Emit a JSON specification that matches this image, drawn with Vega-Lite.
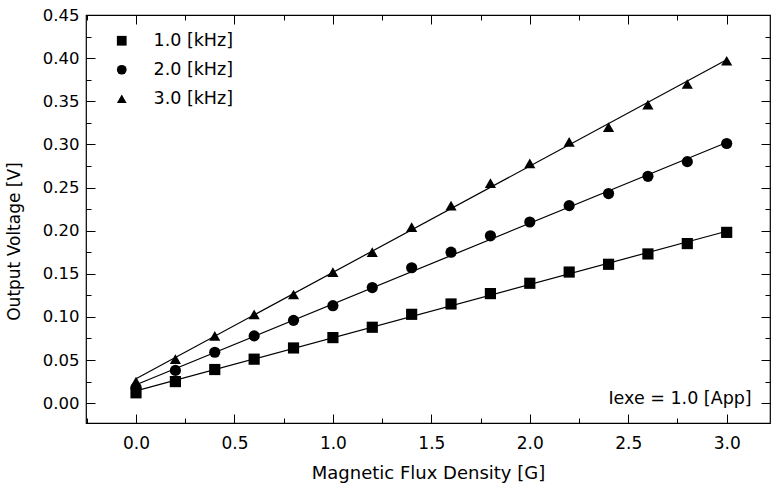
{
  "$schema": "https://vega.github.io/schema/vega-lite/v6.json",
  "autosize": "none",
  "width": 684,
  "height": 408,
  "padding": {"left": 86, "top": 15, "right": 1, "bottom": 69},
  "background": "white",
  "config": {
    "font": "DejaVu Sans",
    "view": {"stroke": "black", "strokeWidth": 1.2},
    "axis": {"domain": false, "grid": false, "tickColor": "black", "labelColor": "black", "titleColor": "black", "titleFontWeight": "normal", "labelFont": "DejaVu Sans", "titleFont": "DejaVu Sans"},
    "legend": {"labelFont": "DejaVu Sans"}
  },
  "data": {
    "values": [
      {"B": 0.0, "V": 0.012, "f": "1.0 [kHz]"},
      {"B": 0.2, "V": 0.025, "f": "1.0 [kHz]"},
      {"B": 0.4, "V": 0.039, "f": "1.0 [kHz]"},
      {"B": 0.6, "V": 0.051, "f": "1.0 [kHz]"},
      {"B": 0.8, "V": 0.064, "f": "1.0 [kHz]"},
      {"B": 1.0, "V": 0.076, "f": "1.0 [kHz]"},
      {"B": 1.2, "V": 0.088, "f": "1.0 [kHz]"},
      {"B": 1.4, "V": 0.103, "f": "1.0 [kHz]"},
      {"B": 1.6, "V": 0.115, "f": "1.0 [kHz]"},
      {"B": 1.8, "V": 0.127, "f": "1.0 [kHz]"},
      {"B": 2.0, "V": 0.139, "f": "1.0 [kHz]"},
      {"B": 2.2, "V": 0.152, "f": "1.0 [kHz]"},
      {"B": 2.4, "V": 0.161, "f": "1.0 [kHz]"},
      {"B": 2.6, "V": 0.173, "f": "1.0 [kHz]"},
      {"B": 2.8, "V": 0.185, "f": "1.0 [kHz]"},
      {"B": 3.0, "V": 0.198, "f": "1.0 [kHz]"},
      {"B": 0.0, "V": 0.018, "f": "2.0 [kHz]"},
      {"B": 0.2, "V": 0.038, "f": "2.0 [kHz]"},
      {"B": 0.4, "V": 0.059, "f": "2.0 [kHz]"},
      {"B": 0.6, "V": 0.078, "f": "2.0 [kHz]"},
      {"B": 0.8, "V": 0.096, "f": "2.0 [kHz]"},
      {"B": 1.0, "V": 0.113, "f": "2.0 [kHz]"},
      {"B": 1.2, "V": 0.134, "f": "2.0 [kHz]"},
      {"B": 1.4, "V": 0.157, "f": "2.0 [kHz]"},
      {"B": 1.6, "V": 0.175, "f": "2.0 [kHz]"},
      {"B": 1.8, "V": 0.194, "f": "2.0 [kHz]"},
      {"B": 2.0, "V": 0.210, "f": "2.0 [kHz]"},
      {"B": 2.2, "V": 0.229, "f": "2.0 [kHz]"},
      {"B": 2.4, "V": 0.243, "f": "2.0 [kHz]"},
      {"B": 2.6, "V": 0.263, "f": "2.0 [kHz]"},
      {"B": 2.8, "V": 0.280, "f": "2.0 [kHz]"},
      {"B": 3.0, "V": 0.301, "f": "2.0 [kHz]"},
      {"B": 0.0, "V": 0.025, "f": "3.0 [kHz]"},
      {"B": 0.2, "V": 0.051, "f": "3.0 [kHz]"},
      {"B": 0.4, "V": 0.078, "f": "3.0 [kHz]"},
      {"B": 0.6, "V": 0.103, "f": "3.0 [kHz]"},
      {"B": 0.8, "V": 0.126, "f": "3.0 [kHz]"},
      {"B": 1.0, "V": 0.152, "f": "3.0 [kHz]"},
      {"B": 1.2, "V": 0.175, "f": "3.0 [kHz]"},
      {"B": 1.4, "V": 0.204, "f": "3.0 [kHz]"},
      {"B": 1.6, "V": 0.229, "f": "3.0 [kHz]"},
      {"B": 1.8, "V": 0.255, "f": "3.0 [kHz]"},
      {"B": 2.0, "V": 0.278, "f": "3.0 [kHz]"},
      {"B": 2.2, "V": 0.303, "f": "3.0 [kHz]"},
      {"B": 2.4, "V": 0.320, "f": "3.0 [kHz]"},
      {"B": 2.6, "V": 0.346, "f": "3.0 [kHz]"},
      {"B": 2.8, "V": 0.370, "f": "3.0 [kHz]"},
      {"B": 3.0, "V": 0.397, "f": "3.0 [kHz]"}
    ]
  },
  "resolve": {"axis": {"x": "independent", "y": "independent"}},
  "layer": [
    {
      "transform": [{"regression": "V", "on": "B", "groupby": ["f"], "extent": [0, 3]}],
      "mark": {"type": "line", "color": "black", "strokeWidth": 1.2},
      "encoding": {
        "x": {"field": "B", "type": "quantitative", "scale": {"domain": [-0.254, 3.22], "nice": false, "zero": false}, "axis": null},
        "y": {"field": "V", "type": "quantitative", "scale": {"domain": [-0.023, 0.45], "nice": false, "zero": false}, "axis": null},
        "detail": {"field": "f"}
      }
    },
    {
      "mark": {"type": "point", "filled": true, "opacity": 1, "color": "black", "size": 125},
      "encoding": {
        "x": {"field": "B", "type": "quantitative", "scale": {"domain": [-0.254, 3.22], "nice": false, "zero": false},
          "axis": {"orient": "bottom", "values": [0, 0.5, 1, 1.5, 2, 2.5, 3], "format": ".1f", "ticks": false, "labelPadding": 12, "labelFontSize": 17, "title": "Magnetic Flux Density [G]", "titleFontSize": 18, "titlePadding": 13}},
        "y": {"field": "V", "type": "quantitative", "scale": {"domain": [-0.023, 0.45], "nice": false, "zero": false},
          "axis": {"orient": "left", "values": [0, 0.05, 0.1, 0.15, 0.2, 0.25, 0.3, 0.35, 0.4, 0.45], "format": ".2f", "ticks": false, "labelPadding": 7, "labelFontSize": 16.5, "title": "Output Voltage [V]", "titleFontSize": 17, "titlePadding": 17, "titleY": 226, "titleX": -63}},
        "shape": {"field": "f", "type": "nominal", "scale": {"range": ["square", "circle", "triangle-up"]},
          "legend": {"title": null, "orient": "none", "legendX": 27, "legendY": 17, "labelFontSize": 17.5, "labelColor": "black", "symbolSize": 95, "symbolFillColor": "black", "symbolStrokeColor": "black", "rowPadding": 10, "labelOffset": 23}}
      }
    },
    {
      "data": {"values": [{"label": "Iexe = 1.0 [App]"}]},
      "mark": {"type": "text", "align": "right", "baseline": "middle", "fontSize": 17.5, "color": "black"},
      "encoding": {
        "x": {"datum": 3.127, "type": "quantitative", "scale": {"domain": [-0.254, 3.22], "nice": false, "zero": false}, "axis": null},
        "y": {"datum": 0.005, "type": "quantitative", "scale": {"domain": [-0.023, 0.45], "nice": false, "zero": false}, "axis": null},
        "text": {"field": "label"}
      }
    },
    {
      "mark": {"type": "point", "opacity": 0},
      "encoding": {
        "x": {"field": "B", "type": "quantitative", "scale": {"domain": [-0.254, 3.22], "nice": false, "zero": false},
          "axis": {"orient": "bottom", "values": [0, 0.5, 1, 1.5, 2, 2.5, 3], "labels": false, "tickSize": -9, "title": null}},
        "y": {"field": "V", "type": "quantitative", "scale": {"domain": [-0.023, 0.45], "nice": false, "zero": false},
          "axis": {"orient": "left", "values": [0, 0.05, 0.1, 0.15, 0.2, 0.25, 0.3, 0.35, 0.4, 0.45], "labels": false, "tickSize": -9, "title": null}}
      }
    },
    {
      "mark": {"type": "point", "opacity": 0},
      "encoding": {
        "x": {"field": "B", "type": "quantitative", "scale": {"domain": [-0.254, 3.22], "nice": false, "zero": false},
          "axis": {"orient": "bottom", "values": [-0.25, 0.25, 0.75, 1.25, 1.75, 2.25, 2.75], "labels": false, "tickSize": -5, "title": null}},
        "y": {"field": "V", "type": "quantitative", "scale": {"domain": [-0.023, 0.45], "nice": false, "zero": false},
          "axis": {"orient": "left", "values": [0.025, 0.075, 0.125, 0.175, 0.225, 0.275, 0.325, 0.375, 0.425], "labels": false, "tickSize": -5, "title": null}}
      }
    },
    {
      "mark": {"type": "point", "opacity": 0},
      "encoding": {
        "x": {"field": "B", "type": "quantitative", "scale": {"domain": [-0.254, 3.22], "nice": false, "zero": false},
          "axis": {"orient": "top", "values": [0, 0.5, 1, 1.5, 2, 2.5, 3], "labels": false, "tickSize": -9, "title": null}},
        "y": {"field": "V", "type": "quantitative", "scale": {"domain": [-0.023, 0.45], "nice": false, "zero": false},
          "axis": {"orient": "right", "values": [0, 0.05, 0.1, 0.15, 0.2, 0.25, 0.3, 0.35, 0.4, 0.45], "labels": false, "tickSize": -9, "title": null}}
      }
    },
    {
      "mark": {"type": "point", "opacity": 0},
      "encoding": {
        "x": {"field": "B", "type": "quantitative", "scale": {"domain": [-0.254, 3.22], "nice": false, "zero": false},
          "axis": {"orient": "top", "values": [-0.25, 0.25, 0.75, 1.25, 1.75, 2.25, 2.75], "labels": false, "tickSize": -5, "title": null}},
        "y": {"field": "V", "type": "quantitative", "scale": {"domain": [-0.023, 0.45], "nice": false, "zero": false},
          "axis": {"orient": "right", "values": [0.025, 0.075, 0.125, 0.175, 0.225, 0.275, 0.325, 0.375, 0.425], "labels": false, "tickSize": -5, "title": null}}
      }
    }
  ]
}
